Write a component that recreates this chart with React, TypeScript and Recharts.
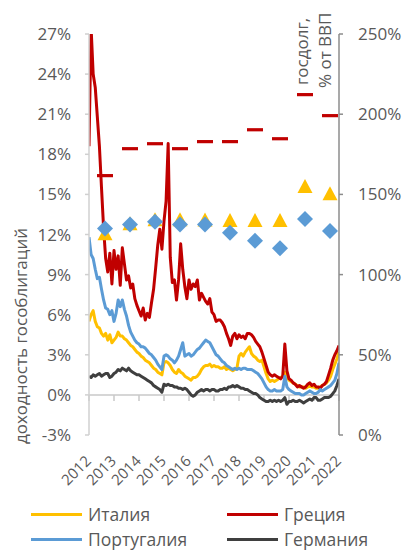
import React from 'react';
import { ComposedChart, Line, Scatter, XAxis, YAxis, ReferenceLine } from 'recharts';

const FONT = '"Open Sans", "Noto Sans", sans-serif';
const TEXT = '#595959';

// monthly observations, starting at the first label of the date axis
const startYear = 2012;
const monthsPerYear = 12;

const italy = [
  5.5, 6.0, 6.3, 5.5, 5.1, 5.0, 4.6, 4.4, 4.6, 4.1, 4.5, 3.9,
  4.1, 4.3, 4.7, 4.4, 4.4, 4.2, 4.1, 3.9, 3.7, 3.6, 3.4, 3.2,
  3.1, 2.9, 2.8, 2.6, 2.5, 2.4, 2.2, 2.0, 1.9, 1.7, 1.6, 1.5,
  2.4, 2.5, 2.4, 2.2, 1.9, 1.7, 1.6, 1.9, 1.7, 1.6, 1.4, 1.3,
  1.2, 1.1, 1.3, 1.3, 1.4, 1.6, 1.9, 2.1, 2.2, 2.2, 2.3, 2.1,
  2.2, 2.1, 2.1, 2.0, 2.0, 2.1, 1.9, 2.0, 1.9, 1.8, 1.9, 2.0,
  2.9, 3.1, 2.9, 3.2, 3.4, 3.6, 3.1, 2.9, 2.8, 2.6, 2.5, 2.6,
  2.1, 1.6, 1.2, 1.0, 1.1, 1.0, 1.1, 1.2, 1.3, 1.4, 1.7, 1.3,
  1.1, 1.0, 0.9, 0.8, 0.7, 0.6, 0.6, 0.6, 0.5, 0.6, 0.7, 0.6,
  0.6, 0.5, 0.5, 0.6, 0.7, 0.8, 0.9, 1.1, 1.4, 1.9, 2.3, 2.7,
  3.2,
];

const greece = [
  18.6, 27.5, 24.0, 23.0, 20.8, 18.6, 15.5, 12.5, 10.2, 9.2, 10.6, 8.3,
  10.8, 9.4, 10.4, 8.2, 11.0, 9.8, 8.6, 8.9, 8.0, 8.3, 7.2, 6.7,
  6.3, 5.9, 6.5, 5.6, 6.1, 5.8, 6.9, 7.9, 9.5, 11.2, 12.4, 10.9,
  13.0, 14.5, 18.8, 10.3, 8.4, 8.6, 7.1, 8.6, 11.3, 9.4, 8.1, 7.2,
  8.6, 7.9, 8.3, 8.1, 8.6, 7.1, 7.6, 7.3, 7.0, 6.8, 7.2, 6.2,
  6.0, 5.5, 5.6, 5.6, 5.4, 5.1, 4.6, 4.2, 3.7, 4.4, 4.6, 4.2,
  4.5, 4.3, 4.4, 4.2, 4.6, 4.6, 4.5, 4.3, 4.0, 3.8, 3.6, 3.2,
  2.7, 2.2, 1.7, 1.5, 1.4, 1.5, 1.4, 1.3, 1.2, 1.4, 3.8, 1.8,
  1.2, 1.1, 0.9, 0.8, 0.6, 0.7, 0.6, 0.5, 0.6, 0.8, 0.9, 0.7,
  0.8, 0.6, 0.6, 0.5, 0.7, 0.8, 1.0, 1.5, 2.0, 2.6, 3.0, 3.3,
  3.7,
];

const portugal = [
  11.8, 10.5, 10.2, 9.4, 8.7, 8.8, 7.9, 7.1, 6.5, 6.4, 6.0, 6.3,
  5.5, 6.1, 7.1, 6.6, 7.1, 6.4, 5.9, 5.2, 4.7, 4.4, 4.1, 3.9,
  3.8, 3.6, 3.6, 3.5, 3.3, 3.1, 3.0, 2.8, 2.6, 2.3, 2.1, 1.9,
  2.9, 3.0, 2.9, 2.7, 2.6, 2.4, 2.6, 2.9, 3.4, 3.9, 2.9, 3.0,
  3.1, 2.9, 3.0, 3.2, 3.4, 3.5, 3.7, 3.9, 4.1, 4.0, 3.9, 3.6,
  3.3, 3.0, 2.9, 2.7, 2.5, 2.4, 2.2, 2.1, 2.0, 1.9, 2.0, 1.9,
  2.0, 1.9, 2.0, 2.0, 1.9, 1.9, 1.9, 1.8, 1.7, 1.6, 1.4, 1.2,
  0.9, 0.6, 0.4, 0.3, 0.3, 0.4, 0.3, 0.3, 0.3, 0.4, 1.4, 0.6,
  0.4, 0.3, 0.2, 0.1, 0.1, 0.1, 0.0, 0.0, 0.1, 0.2, 0.3, 0.2,
  0.1, 0.1, 0.2, 0.4, 0.3, 0.4, 0.5, 0.6, 0.7, 0.9, 1.1, 1.6,
  2.4,
];

const germany = [
  1.4, 1.3, 1.5, 1.4, 1.5, 1.6, 1.4, 1.5, 1.6, 1.6, 1.3, 1.4,
  1.6, 1.7, 1.9, 1.8, 2.0, 1.9, 1.8, 2.0, 1.8, 1.7, 1.6, 1.5,
  1.5, 1.4, 1.3, 1.2, 1.1, 1.0, 0.9, 0.7, 0.6, 0.5, 0.4, 0.2,
  0.8, 0.7, 0.8, 0.7, 0.7, 0.6, 0.6, 0.5, 0.5, 0.4, 0.5, 0.4,
  0.2, 0.0, -0.1, 0.0, 0.2, 0.3, 0.4, 0.3, 0.4, 0.4, 0.3, 0.4,
  0.4, 0.3, 0.3, 0.4, 0.4, 0.5, 0.4, 0.6, 0.6, 0.7, 0.6, 0.7,
  0.6, 0.5, 0.5, 0.4, 0.4, 0.3, 0.2, 0.1, 0.1, 0.0, -0.2, -0.3,
  -0.4, -0.5, -0.5, -0.4, -0.5, -0.4, -0.5, -0.4, -0.5, -0.4, -0.2, -0.7,
  -0.5, -0.5, -0.4, -0.5, -0.5, -0.4, -0.5, -0.6, -0.5, -0.4, -0.3, -0.4,
  -0.2, -0.2, -0.4, -0.4, -0.3, -0.2, -0.2, -0.2, -0.1, 0.1, 0.3, 0.7,
  1.2,
];

const yearTicks = [2012, 2013, 2014, 2015, 2016, 2017, 2018, 2019, 2020, 2021, 2022];
const leftTicks = [-3, 0, 3, 6, 9, 12, 15, 18, 21, 24, 27];
const rightTicks = [0, 50, 100, 150, 200, 250];

// public debt, % of GDP (right axis)
const debtYears = [2012, 2013, 2014, 2015, 2016, 2017, 2018, 2019, 2020, 2021];
const debtDateOffset = 0.64;
const greeceDebt = [161.7, 178.5, 181.6, 178.5, 182.9, 182.9, 190.3, 184.7, 212.2, 199.1];
const italyDebt = [125.5, 131.7, 134.2, 134.2, 134.0, 133.8, 133.8, 133.8, 155.0, 150.4];
const portugalDebt = [128.8, 131.3, 133.0, 131.3, 131.3, 126.1, 121.1, 116.4, 134.7, 127.2];

const seriesNames = { italy: 'Италия', greece: 'Греция', portugal: 'Португалия', germany: 'Германия' };
const colors = { italy: '#FFC000', greece: '#C00000', portugal: '#5B9BD5', germany: '#3F3F3F' };

const yieldRows = italy.map((v, i) => ({
  t: startYear + i / monthsPerYear,
  italy: v,
  greece: greece[i],
  portugal: portugal[i],
  germany: germany[i],
}));

const debtRows = debtYears.map((y, i) => ({
  t: y + debtDateOffset,
  greeceDebt: greeceDebt[i],
  italyDebt: italyDebt[i],
  portugalDebt: portugalDebt[i],
}));

const Dash = (p: any) => (
  <rect x={p.cx - 8} y={p.cy - 1.6} width={16} height={3.2} fill={colors.greece} />
);
const Tri = (p: any) => (
  <polygon
    points={`${p.cx},${p.cy - 7.5} ${p.cx + 7.5},${p.cy + 6.5} ${p.cx - 7.5},${p.cy + 6.5}`}
    fill={colors.italy}
  />
);
const Dia = (p: any) => (
  <polygon
    points={`${p.cx},${p.cy - 8} ${p.cx + 8},${p.cy} ${p.cx},${p.cy + 8} ${p.cx - 8},${p.cy}`}
    fill={colors.portugal}
  />
);

const XTick = (p: any) => (
  <g transform={`translate(${p.x},${p.y})`}>
    <text
      x={0}
      y={0}
      transform="translate(3,27) rotate(-45)"
      textAnchor="end"
      fill={TEXT}
      fontSize={15}
      fontFamily={FONT}
    >
      {p.payload.value}
    </text>
  </g>
);

const legendItems: [keyof typeof colors, number, number][] = [
  ['italy', 31, 514],
  ['greece', 227, 514],
  ['portugal', 31, 539],
  ['germany', 227, 539],
];

export default function App() {
  return (
    <div style={{ position: 'absolute', left: 0, top: 0, width: 412, height: 551, background: '#fff', overflow: 'hidden' }}>
      <ComposedChart
        width={412}
        height={551}
        data={yieldRows}
        margin={{ top: 34, right: 0, bottom: 0, left: 0 }}
      >
        <XAxis
          xAxisId={0}
          dataKey="t"
          type="number"
          domain={[2012, 2022]}
          ticks={yearTicks}
          interval={0}
          allowDataOverflow
          axisLine={false}
          tickLine={false}
          tickSize={0}
          tickMargin={0}
          height={116}
          tick={<XTick />}
        />
        <YAxis
          yAxisId="left"
          orientation="left"
          width={89}
          domain={[-3, 27]}
          ticks={leftTicks}
          interval={0}
          allowDataOverflow
          tickFormatter={(v: number) => `${v}%`}
          axisLine={{ stroke: '#D0D0D0', strokeWidth: 1.5 }}
          tickLine={{ stroke: '#D0D0D0', strokeWidth: 1.5 }}
          tickSize={4}
          tickMargin={14}
          tick={{ fill: TEXT, fontSize: 17, fontFamily: FONT }}
        />
        <YAxis
          yAxisId="right"
          orientation="right"
          width={73}
          domain={[0, 250]}
          ticks={rightTicks}
          interval={0}
          allowDataOverflow
          tickFormatter={(v: number) => `${v}%`}
          axisLine={{ stroke: '#8C8C8C', strokeWidth: 1.5 }}
          tickLine={{ stroke: '#8C8C8C', strokeWidth: 1.5 }}
          tickSize={4}
          tickMargin={15}
          tick={{ fill: TEXT, fontSize: 17, fontFamily: FONT, textAnchor: 'start' }}
        />
        <ReferenceLine yAxisId="left" y={0} stroke="#C8C8C8" strokeWidth={1.5} />
        {yearTicks.map((y) => (
          <ReferenceLine
            key={y}
            yAxisId="left"
            segment={[{ x: y, y: 0 }, { x: y, y: -0.45 }]}
            stroke="#C8C8C8"
            strokeWidth={1.5}
            ifOverflow="visible"
          />
        ))}
        {(['italy', 'greece', 'portugal', 'germany'] as const).map((k) => (
          <Line
            key={k}
            yAxisId="left"
            dataKey={k}
            name={seriesNames[k]}
            stroke={colors[k]}
            strokeWidth={3}
            dot={false}
            type="linear"
            strokeLinejoin="round"
            isAnimationActive={false}
          />
        ))}
        <Scatter yAxisId="right" data={debtRows} dataKey="greeceDebt" shape={<Dash />} isAnimationActive={false} />
        <Scatter yAxisId="right" data={debtRows} dataKey="italyDebt" shape={<Tri />} isAnimationActive={false} />
        <Scatter yAxisId="right" data={debtRows} dataKey="portugalDebt" shape={<Dia />} isAnimationActive={false} />
      </ComposedChart>

      <svg
        width={412}
        height={551}
        style={{ position: 'absolute', left: 0, top: 0, pointerEvents: 'none' }}
      >
        <text
          transform="translate(27,336) rotate(-90)"
          textAnchor="middle"
          fill={TEXT}
          fontSize={17}
          fontFamily={FONT}
        >
          доходность гособлигаций
        </text>
        <text transform="translate(308,85) rotate(-90)" textAnchor="start" fill={TEXT} fontSize={17} fontFamily={FONT}>
          госдолг,
        </text>
        <text transform="translate(331,88) rotate(-90)" textAnchor="start" fill={TEXT} fontSize={17} fontFamily={FONT}>
          % от ВВП
        </text>
      </svg>

      {legendItems.map(([k, x, y]) => (
        <div key={k} style={{ position: 'absolute', left: x, top: y - 10, height: 20, display: 'flex', alignItems: 'center' }}>
          <div style={{ width: 51, height: 3, background: colors[k] }} />
          <span style={{ marginLeft: 6, fontFamily: FONT, fontSize: 17.5, color: TEXT, lineHeight: '20px', whiteSpace: 'nowrap' }}>
            {seriesNames[k]}
          </span>
        </div>
      ))}
    </div>
  );
}
